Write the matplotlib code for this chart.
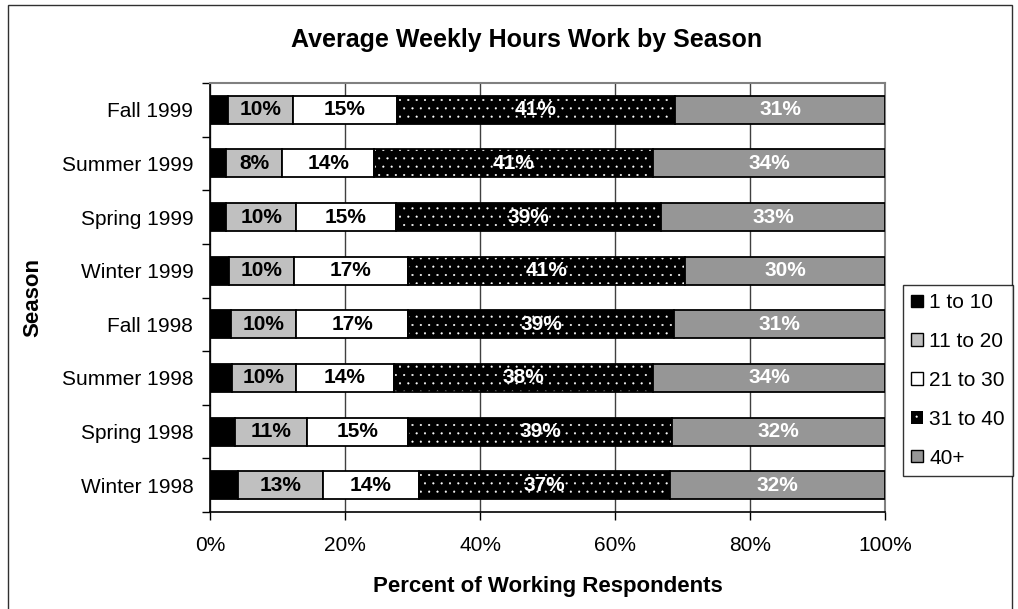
import matplotlib
matplotlib.use('Agg')
import matplotlib.pyplot as plt
from matplotlib.patches import Patch, Rectangle

plt.rcParams['font.family'] = ['Liberation Sans', 'DejaVu Sans']
plt.rcParams['hatch.linewidth'] = 0.3

# data (percent of working respondents), top row first
seasons = ['Fall 1999', 'Summer 1999', 'Spring 1999', 'Winter 1999',
           'Fall 1998', 'Summer 1998', 'Spring 1998', 'Winter 1998']
h_1_10 = [2.7, 2.4, 2.4, 2.8, 3.1, 3.2, 3.7, 4.1]
h_11_20 = [9.6, 8.3, 10.4, 9.6, 9.6, 9.6, 10.6, 12.7]
h_21_30 = [15.4, 13.6, 14.7, 16.9, 16.7, 14.4, 15.1, 14.1]
h_31_40 = [41.2, 41.3, 39.3, 41.1, 39.4, 38.4, 39.0, 37.3]
h_40p = [31.1, 34.4, 33.2, 29.6, 31.2, 34.4, 31.6, 31.8]
series_names = ['1 to 10', '11 to 20', '21 to 30', '31 to 40', '40+']

series = [h_1_10, h_11_20, h_21_30, h_31_40, h_40p]
faces = ['black', '#c0c0c0', 'white', 'black', '#969696']
hatches = [None, None, None, '..', None]
label_colors = [None, 'black', 'black', 'white', 'white']

fig = plt.figure(figsize=(10.18, 6.09), dpi=100)
ax = fig.add_axes([210/1018, 1-512/609, 675/1018, 429/609])

y = list(range(len(seasons)))[::-1]
left = [0]*len(seasons)
for vals, fc, hat, lc in zip(series, faces, hatches, label_colors):
    if hat:
        ax.barh(y, vals, left=left, height=0.52, color=fc, edgecolor='white',
                hatch=hat, linewidth=0, zorder=2)
        cont = ax.barh(y, vals, left=left, height=0.52, facecolor='none',
                       edgecolor='black', linewidth=1.3, zorder=3)
    else:
        cont = ax.barh(y, vals, left=left, height=0.52, color=fc,
                       edgecolor='black', linewidth=1.3, zorder=3)
    if lc:
        ax.bar_label(cont, labels=['%.0f%%' % v for v in vals], label_type='center',
                     color=lc, fontsize=15, fontweight='bold', zorder=4)
    left = [a+b for a, b in zip(left, vals)]

ax.set_xlim(0, 100)
ax.set_ylim(-0.5, len(seasons)-0.5)
ax.set_xticks([0, 20, 40, 60, 80, 100])
ax.set_xticklabels(['0%', '20%', '40%', '60%', '80%', '100%'], fontsize=15)
ax.set_yticks(y)
ax.set_yticklabels(seasons, fontsize=15)
ax.set_yticks([i+0.5 for i in range(-1, len(seasons))], minor=True)
ax.tick_params(axis='y', which='major', length=0, pad=12)
ax.tick_params(axis='y', which='minor', length=6, width=1, direction='out')
ax.tick_params(axis='x', length=6, width=1, direction='out', pad=11)

ax.grid(axis='x', color='#404040', linewidth=1, zorder=0)
ax.set_axisbelow(True)
for s in ['top', 'right']:
    ax.spines[s].set_color('#808080')
    ax.spines[s].set_linewidth(1.5)
for s in ['left', 'bottom']:
    ax.spines[s].set_color('black')
    ax.spines[s].set_linewidth(1.2)

ax.set_xlabel('Percent of Working Respondents', fontsize=16, fontweight='bold')
ax.xaxis.set_label_coords(0.5, -0.15)
ax.set_ylabel('Season', fontsize=16, fontweight='bold')
ax.yaxis.set_label_coords(-0.247, 0.5)

fig.text(527/1018, 1-40/609, 'Average Weekly Hours Work by Season', ha='center',
         va='center', fontsize=18, fontweight='bold')

handles = []
for name, fc, hat in zip(series_names, faces, hatches):
    if hat:
        handles.append(Patch(facecolor=fc, edgecolor='white', hatch=hat, linewidth=0, label=name))
    else:
        handles.append(Patch(facecolor=fc, edgecolor='black', linewidth=1, label=name))
leg = fig.legend(handles=handles, loc='upper left', bbox_to_anchor=(903/1018, 1-285/609),
                 fontsize=15, frameon=True, fancybox=False, borderaxespad=0,
                 handlelength=0.55, handleheight=0.55, handletextpad=0.3,
                 labelspacing=0.95, borderpad=0.4)
leg.get_frame().set_edgecolor('black')
leg.get_frame().set_linewidth(1)

# outer chart border
fig.patches.append(Rectangle((8/1018, -0.02), 1004/1018, 1.02-5/609, transform=fig.transFigure,
                             fill=False, edgecolor='#303030', linewidth=1))

fig.savefig('out.png', dpi=100)
